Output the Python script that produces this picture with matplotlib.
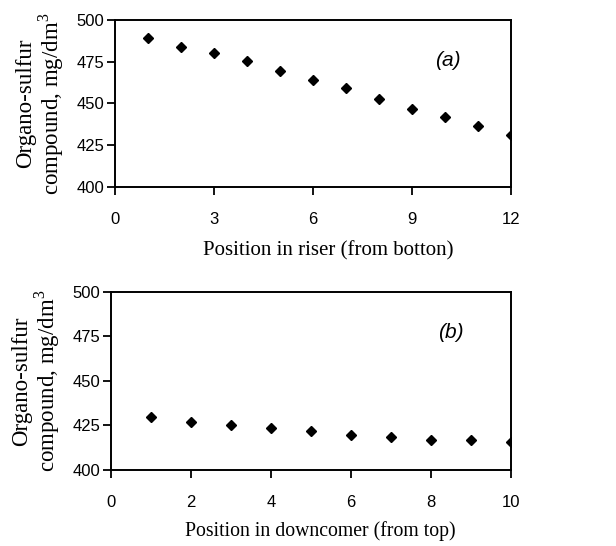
import matplotlib
matplotlib.use("Agg")
import matplotlib.pyplot as plt

riser_x = [1, 2, 3, 4, 5, 6, 7, 8, 9, 10, 11, 12]
riser_y = [489, 484, 480, 475.5, 469.5, 464, 459, 452.5, 447, 442, 436.5, 431]
down_x = [1, 2, 3, 4, 5, 6, 7, 8, 9, 10]
down_y = [430, 427, 425, 423.5, 422, 419.5, 418.5, 417, 417, 415.5]

ylabel = "Organo-sulfur\ncompound, mg/dm$^{3}$"
serif = "Liberation Serif"
sans = "Liberation Sans"
plt.rcParams["mathtext.fontset"] = "custom"
plt.rcParams["mathtext.rm"] = serif

fig = plt.figure(figsize=(6.16, 5.46), dpi=100)
ax1 = fig.add_axes([0.1867, 0.6575, 0.6428, 0.3059])
ax2 = fig.add_axes([0.1802, 0.1392, 0.6493, 0.3260])

def style(ax, xticks):
    ax.set_ylim(400, 500)
    ax.set_yticks([400, 425, 450, 475, 500])
    ax.set_xticks(xticks)
    ax.set_xlim(xticks[0], xticks[-1])
    ax.tick_params(direction="out", length=6, width=1.3, labelsize=12)
    ax.tick_params(axis="y", pad=1.5)
    ax.tick_params(axis="x", pad=12)
    for lab in ax.get_xticklabels() + ax.get_yticklabels():
        lab.set_fontfamily(sans)
    for s in ax.spines.values():
        s.set_linewidth(1.4)

ax1.plot(riser_x, riser_y, linestyle="none", marker="D", markersize=5.5, color="black")
style(ax1, [0, 3, 6, 9, 12])
ax1.set_ylabel(ylabel, fontfamily=serif, fontsize=16.5, labelpad=8, linespacing=1.0)
ax1.set_xlabel("Position in riser (from botton)", fontfamily=serif, fontsize=15, labelpad=10, x=0.538)
ax1.text(10.1, 476, "(a)", fontfamily=sans, fontstyle="italic", fontsize=15, ha="center", va="center")

ax2.plot(down_x, down_y, linestyle="none", marker="D", markersize=5.5, color="black")
style(ax2, [0, 2, 4, 6, 8, 10])
ax2.set_ylabel(ylabel, fontfamily=serif, fontsize=16.5, labelpad=8, linespacing=1.0)
ax2.set_xlabel("Position in downcomer (from top)", fontfamily=serif, fontsize=14.2, labelpad=8, x=0.5225)
ax2.text(8.5, 477, "(b)", fontfamily=sans, fontstyle="italic", fontsize=15, ha="center", va="center")

fig.savefig("out.png", dpi=100)
